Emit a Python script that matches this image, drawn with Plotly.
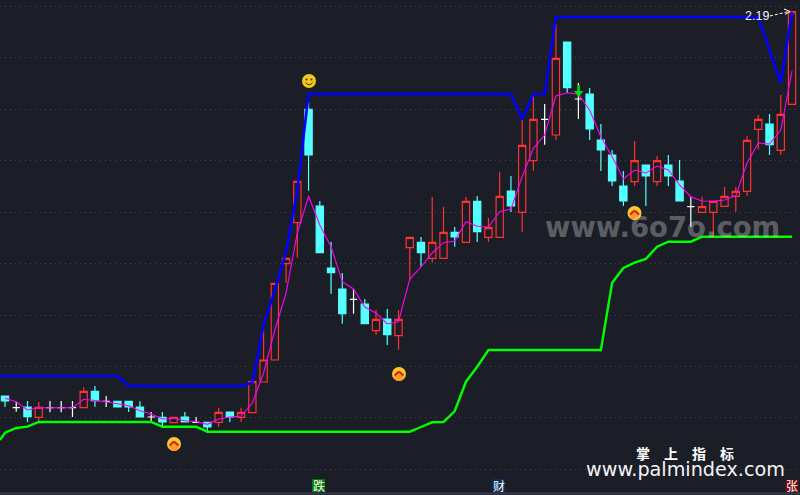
import plotly.graph_objects as go

W, H = 800, 495
BG = "#1b1e27"
RED = "#ff3232"
CYAN = "#54ffff"

# Candles (screen-height readings, top of chart = 0)
kinds = (["c","w","c","r","w","w","w","r","c","w","c","c","c","w","c","r","c","w","c","r","c","r","r","r","r","r","r",
          "c","c","c","c","w","c","r","c","r","r","c","r","r","c","r","c","r","r","c","r","r","w","r","c","w","c",
          "c","c","c","r","c","r","c","c","w","r","r","r","r","r","r","c","r","r"])
high = [396,401.7,401,402,401,401,401,387.3,386,396,401.3,401.3,401.3,412,412,417.3,412,417,422.3,407.7,412,407.7,381.7,330,283,258,181,
        102,201,242,273,289,299,310,309,310,237,237,197,207,227,197,196,218,172.3,176,120,96.7,104,24,42,83,88,
        124,150,171,141,165,156,155,160,196.7,196.7,201.3,187,187,136,115,114,95,11.7]
body_top = [396,407.7,407,407.3,407.7,407.7,407.7,391.3,391.3,401.3,401.3,401.3,407,417,417.3,417.3,417,422.3,422.3,412.3,412,412.3,381.7,360,283.3,258.3,181.3,
            109.3,206,268,289,299.3,304,319.3,319,319.3,237.3,242.3,242.3,232.3,232.3,201.3,201.3,227.7,196.3,191,145.3,119.3,119.3,58.3,42,99,94,
            140,155,186,160.7,165,160.7,165,181,206.7,206.7,201.3,196.3,191.3,140.3,119.3,124,114.3,11.7]
body_bottom = [401,407.7,416.7,417.3,407.7,407.7,407.7,407.7,400.7,401.3,407,407,417,417,422,422.7,422,422.3,427,422.3,417,417.3,412.7,382,360,263.7,222.7,
               155,252.7,272.7,313.7,299.3,323.7,330.7,334.7,335.7,247.7,252.7,258.3,258.3,237,242.3,231.7,237.3,237.3,206,212.3,160.7,119.3,135,87.7,99,129,
               150,181,201,181.7,176,181.7,176,201,206.7,212.3,212.3,206.3,196.3,191.3,129.3,144.7,150.3,104.3]
low = [407,411.7,422,421.7,412.3,412.3,417,407.7,406.7,407,407,412,417,422.3,426,422.7,422,422.3,431.7,427,422,422,412.7,382,360,282.7,257.7,
       190.7,252.7,293.7,323.7,313.7,323.7,335,345,349.7,280.7,266.7,262.7,258.3,246.7,242.3,242,242,237.3,212,232,170.7,144.7,140,93,119,140,
       171,186,206,186,206,186,186,201,226.7,212.3,236.7,206.3,211.7,195.7,149.3,155,155,104.3]
ma_line = [398.3,401.7,410,407.7,407.7,407.7,407.7,399.3,400.3,401.7,403.7,405.7,410.7,414,419,418.3,420.7,421.7,424.3,419,417,416,403,373,330,293,233,
           196,225,246.7,281.7,289,307,313,324,321.7,279,267,253,242.7,241,221.7,226.3,227,211.7,209,176.7,148.3,135,96,92.7,94.3,110,
           136.7,156.7,179,170,173,166,170,185,196.7,201,201.3,200,195.7,163,143,144,130,71]
blue_line = [376]*11 + [386]*11 + [382.7,325,290,252,190,94] + [94]*18 + [119.3,94,94,17] + [17]*18 + [50,83,12]
green_line = [432.7,428,426.7] + [422]*11 + [426.7]*4 + [431.7]*19 + [427,422.3,422,411,381.7,366.7] + [350]*11 + \
             [282.7,268,262.7,259,246.7,241.7,241.7,241.7,236.7] + [236.7]*8
lead_blue, lead_green = 376, 440
grid_levels = [6,57.5,109,160.5,212,263.5,315,366.5,417.5,469]

def val(seq):
    return [H - v for v in seq]

n = len(kinds)
idx = list(range(n))
PX0, STEP = 5.0, 11.243
x_range = [(0 - PX0) / STEP, (W - PX0) / STEP]

fig = go.Figure()

def add_candles(kind, up_line, up_fill, dn_line, dn_fill):
    ids = [i for i in idx if kinds[i] == kind]
    if kind == "c":
        op, cl = [H - body_top[i] for i in ids], [H - body_bottom[i] for i in ids]
    else:
        op, cl = [H - body_bottom[i] for i in ids], [H - body_top[i] for i in ids]
    fig.add_trace(go.Candlestick(
        x=ids, open=op, close=cl,
        high=[H - high[i] for i in ids], low=[H - low[i] for i in ids],
        whiskerwidth=0,
        increasing=dict(line=dict(color=up_line, width=1.2), fillcolor=up_fill),
        decreasing=dict(line=dict(color=dn_line, width=1.2), fillcolor=dn_fill),
        showlegend=False, hoverinfo="skip"))

add_candles("r", RED, BG, RED, BG)
add_candles("c", CYAN, CYAN, CYAN, CYAN)
add_candles("w", "#ffffff", "#ffffff", "#ffffff", "#ffffff")

fig.add_trace(go.Scatter(x=[x_range[0]] + idx, y=val([lead_green] + green_line), mode="lines",
                         line=dict(color="#00ff00", width=2.4), showlegend=False, hoverinfo="skip"))
fig.add_trace(go.Scatter(x=[x_range[0]] + idx, y=val([lead_blue] + blue_line), mode="lines",
                         line=dict(color="#0000ff", width=2.6), showlegend=False, hoverinfo="skip"))
fig.add_trace(go.Scatter(x=idx, y=val(ma_line), mode="lines",
                         line=dict(color="#ff00ff", width=1.1), showlegend=False, hoverinfo="skip"))

def px(x): return x / W
def py(y): return 1 - y / H

shapes = []
def rect(x0, y0, x1, y1, color):
    shapes.append(dict(type="rect", xref="paper", yref="paper", x0=px(x0), x1=px(x1), y0=py(y1), y1=py(y0),
                       fillcolor=color, line=dict(width=0)))
def circle(cx, cy, r, color):
    shapes.append(dict(type="circle", xref="paper", yref="paper", x0=px(cx-r), x1=px(cx+r), y0=py(cy+r), y1=py(cy-r),
                       fillcolor=color, line=dict(width=0)))
def seg(x0, y0, x1, y1, color, w, dash="solid"):
    shapes.append(dict(type="line", xref="paper", yref="paper", x0=px(x0), x1=px(x1), y0=py(y0), y1=py(y1),
                       line=dict(color=color, width=w, dash=dash)))

def up_icon(cx, cy):
    circle(cx, cy, 7, "#ffc52a")
    circle(cx, cy + 2.4, 4.7, "#ff9a24")
    seg(cx - 4.5, cy + 1.5, cx, cy - 2.5, "#c8261a", 2)
    seg(cx, cy - 2.5, cx + 4.5, cy + 1.5, "#c8261a", 2)

def smiley(cx, cy):
    circle(cx, cy, 7, "#f2c81e")
    circle(cx - 2.5, cy - 1.5, 1, "#3a2c10")
    circle(cx + 2.5, cy - 1.5, 1, "#3a2c10")
    seg(cx - 3.5, cy + 1.5, cx - 1.5, cy + 3.5, "#3a2c10", 1)
    seg(cx - 1.5, cy + 3.5, cx + 1.5, cy + 3.5, "#3a2c10", 1)
    seg(cx + 1.5, cy + 3.5, cx + 3.5, cy + 1.5, "#3a2c10", 1)

for c in [(174, 444), (399, 374), (634.5, 213)]:
    up_icon(*c)
smiley(309, 81)

# green down arrow
seg(578.7, 85, 578.7, 92, "#00d814", 2.4)
shapes.append(dict(type="path", xref="paper", yref="paper",
                   path=f"M {px(574)} {py(91)} L {px(583.5)} {py(91)} L {px(578.7)} {py(97)} Z",
                   fillcolor="#00d814", line=dict(width=0)))

# 2.19 dashed arrow
seg(770, 16, 789, 11.5, "#ffffff", 1, "3px 2px")
seg(784, 9, 790, 11.5, "#ffffff", 1)
seg(785, 14.5, 790, 11.5, "#ffffff", 1)

# bottom strip
rect(0, 492.5, W, 494.5, "#343a4a")
rect(312, 479, 325, 492, "#007a00")
rect(492.3, 479, 505, 492, "#0a2c5c")
rect(785.7, 480, 798, 492, "#7c0c0c")

def label(x, y, text, size, color="#ffffff", family="DejaVu Sans", bold=False):
    font = dict(size=size, color=color, family=family)
    if bold:
        font["weight"] = 700
    return dict(xref="paper", yref="paper", x=px(x), y=py(y), text=text, showarrow=False,
                xanchor="center", yanchor="middle", font=font)

annotations = [
    label(662, 227.5, "www.6o7o.com", 27.5, "rgba(255,255,255,0.30)", bold=True),
    label(685, 452.5, "掌\u3000上\u3000指\u3000标", 14, family="Noto Sans CJK SC", bold=True),
    label(685, 469, "www.palmindex.com", 19.2, "#f4f4f4"),
    label(757, 16, "2.19", 12.5, "#f0f0f0", family="Liberation Sans"),
    label(318.5, 485.5, "跌", 12, family="Noto Sans CJK SC"),
    label(498.6, 485.5, "财", 12, family="Noto Sans CJK SC"),
    label(791.8, 485.5, "张", 12, family="Noto Sans CJK SC"),
]

fig.update_layout(
    width=W, height=H, margin=dict(l=0, r=0, t=0, b=0, pad=0),
    paper_bgcolor=BG, plot_bgcolor=BG, showlegend=False, boxgap=0.08, boxmode="overlay",
    shapes=shapes, annotations=annotations,
    xaxis=dict(range=x_range, showgrid=False, zeroline=False, showticklabels=False, ticks="",
               rangeslider=dict(visible=False), fixedrange=True),
    yaxis=dict(range=[0, H], tickmode="array", tickvals=val(grid_levels), showticklabels=False, ticks="",
               showgrid=True, gridcolor="#40454f", griddash="1px 4px", gridwidth=1, zeroline=False, fixedrange=True),
)
fig.write_html("out.html", config=dict(displayModeBar=False),
               post_script="document.body.style.margin='0';document.body.style.background='#1b1e27';document.documentElement.style.overflow='hidden';")
